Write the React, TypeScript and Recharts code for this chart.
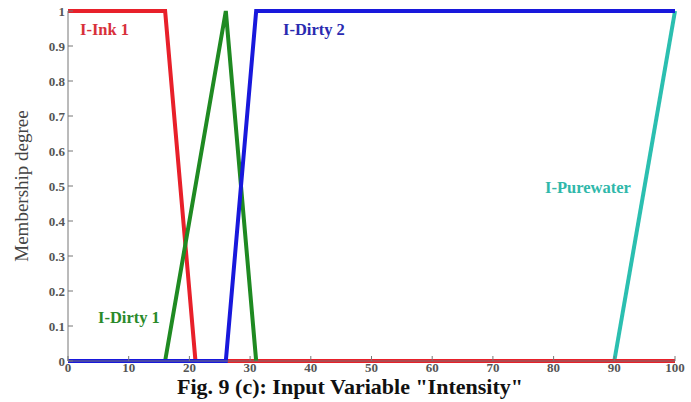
import React from 'react';
import { LineChart, Line, XAxis, YAxis, CartesianGrid } from 'recharts';

// membership functions of the input variable "Intensity"
const inkPoints = [
  { x: 0, y: 1 },
  { x: 16, y: 1 },
  { x: 21, y: 0 },
  { x: 100, y: 0 },
];
const dirty1Points = [
  { x: 16, y: 0 },
  { x: 26, y: 1 },
  { x: 31, y: 0 },
];
const dirty2Points = [
  { x: 0, y: 0 },
  { x: 26, y: 0 },
  { x: 31, y: 1 },
  { x: 100, y: 1 },
];
const purewaterPoints = [
  { x: 90, y: 0 },
  { x: 100, y: 1 },
];

const xTicks = [0, 10, 20, 30, 40, 50, 60, 70, 80, 90, 100];
const yTicks = [0, 0.1, 0.2, 0.3, 0.4, 0.5, 0.6, 0.7, 0.8, 0.9, 1];

const serif = '"Liberation Serif", "DejaVu Serif", serif';
const tickStyle = { fontSize: 13, fill: '#555', fontFamily: serif, fontWeight: 700 };

const lbl = (color: string): React.CSSProperties => ({
  position: 'absolute',
  fontFamily: serif,
  fontWeight: 700,
  fontSize: 16.5,
  lineHeight: '20px',
  color,
  whiteSpace: 'nowrap',
});

export default function App() {
  return (
    <div style={{ position: 'absolute', left: 0, top: 0, width: 691, height: 402, background: '#fff' }}>
      <LineChart width={691} height={402} margin={{ top: 11, right: 16, left: 28, bottom: 21 }}>
        <CartesianGrid horizontal={false} vertical={false} />
        <XAxis
          xAxisId="b"
          type="number"
          dataKey="x"
          domain={[0, 100]}
          ticks={xTicks}
          tick={tickStyle}
          tickSize={-5}
          tickMargin={7}
          stroke="#777"
          height={20}
        />
        <XAxis xAxisId="t" orientation="top" type="number" dataKey="x" domain={[0, 100]} ticks={xTicks} tick={false} tickSize={-5} stroke="#777" height={0} />
        <YAxis
          yAxisId="l"
          type="number"
          domain={[0, 1]}
          ticks={yTicks}
          tick={tickStyle}
          tickSize={-5}
          tickMargin={8}
          stroke="#777"
          width={40}
          label={{ value: 'Membership degree', angle: -90, position: 'insideLeft', offset: -7, style: { fontFamily: serif, fontSize: 19, fill: '#444', textAnchor: 'middle' } }}
        />
        <YAxis yAxisId="r" orientation="right" type="number" domain={[0, 1]} ticks={yTicks} tick={false} tickSize={-5} stroke="#777" width={0} />
        <Line xAxisId="b" yAxisId="l" data={purewaterPoints} dataKey="y" stroke="#2bbfb0" strokeWidth={4} dot={false} isAnimationActive={false} />
        <Line xAxisId="b" yAxisId="l" data={inkPoints} dataKey="y" stroke="#e8202a" strokeWidth={4} dot={false} isAnimationActive={false} />
        <Line xAxisId="b" yAxisId="l" data={dirty1Points} dataKey="y" stroke="#1f8a22" strokeWidth={4} dot={false} isAnimationActive={false} />
        <Line xAxisId="b" yAxisId="l" data={dirty2Points} dataKey="y" stroke="#1818dc" strokeWidth={4} dot={false} isAnimationActive={false} />
      </LineChart>
      <div style={{ ...lbl('#d8303a'), left: 80, top: 20 }}>I-Ink 1</div>
      <div style={{ ...lbl('#2a2ab0'), left: 283, top: 20 }}>I-Dirty 2</div>
      <div style={{ ...lbl('#2a8a2a'), left: 98, top: 308 }}>I-Dirty 1</div>
      <div style={{ ...lbl('#30b8aa'), left: 545, top: 178 }}>I-Purewater</div>
      <div style={{ position: 'absolute', left: 0, width: 700, top: 374, textAlign: 'center', fontFamily: serif, fontWeight: 700, fontSize: 22, lineHeight: '26px', color: '#111' }}>
        Fig. 9 (c): Input Variable "Intensity"
      </div>
    </div>
  );
}
